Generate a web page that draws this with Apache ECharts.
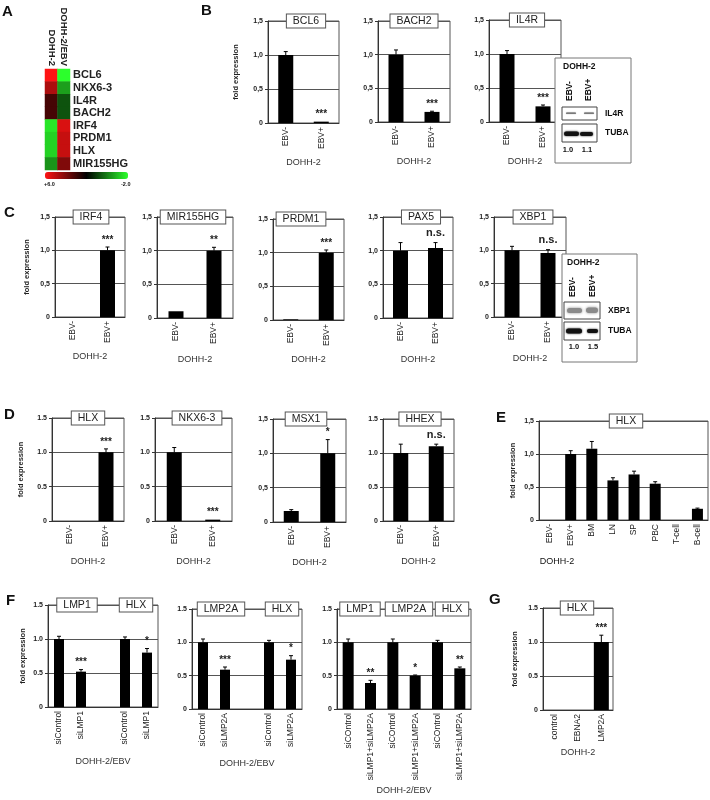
<!DOCTYPE html>
<html>
<head>
<meta charset="utf-8">
<script src="https://cdn.jsdelivr.net/npm/echarts@6/dist/echarts.min.js"></script>
<style>html,body{margin:0;background:#fff}#c{width:710px;height:800px}</style>
</head>
<body>
<div id="c"></div>
<script>
// ---- panel A: heatmap values (log scale, +6 red .. -2 green)
const heatGenes = ['BCL6', 'NKX6-3', 'IL4R', 'BACH2', 'IRF4', 'PRDM1', 'HLX', 'MIR155HG'];
const heatCols = ['DOHH-2', 'DOHH-2/EBV'];
const heatDOHH = [6.0, 4.7, 3.1, 3.1, -1.6, -1.3, -1.3, -0.3];
const heatEBV = [-2.0, -0.5, 0.7, 0.7, 5.4, 5.1, 5.1, 4.0];

// ---- panels B-D
const ebv = ['EBV-', 'EBV+'];
const bcl6 = [1.0, 0.02], bcl6Err = [0.05, 0], bcl6Sig = ['', '***'];
const bach2 = [1.0, 0.15], bach2Err = [0.07, 0.01], bach2Sig = ['', '***'];
const il4r = [1.0, 0.23], il4rErr = [0.05, 0.02], il4rSig = ['', '***'];
const irf4 = [0, 1.0], irf4Err = [0, 0.05], irf4Sig = ['', '***'];
const mir155 = [0.1, 1.0], mir155Err = [0, 0.05], mir155Sig = ['', '**'];
const prdm1 = [0.01, 1.0], prdm1Err = [0, 0.04], prdm1Sig = ['', '***'];
const pax5 = [1.0, 1.04], pax5Err = [0.12, 0.08], pax5Sig = ['', 'n.s.'];
const xbp1 = [1.0, 0.96], xbp1Err = [0.06, 0.05], xbp1Sig = ['', 'n.s.'];
const hlxD = [0, 1.0], hlxDErr = [0, 0.05], hlxDSig = ['', '***'];
const nkx63 = [1.0, 0.02], nkx63Err = [0.07, 0], nkx63Sig = ['', '***'];
const msx1 = [0.16, 1.0], msx1Err = [0.02, 0.2], msx1Sig = ['', '*'];
const hhex = [1.0, 1.1], hhexErr = [0.13, 0.03], hhexSig = ['', 'n.s.'];

// ---- panel E
const tissueCats = ['EBV-', 'EBV+', 'BM', 'LN', 'SP', 'PBC', 'T-cell', 'B-cell'];
const hlxE = [0, 1.0, 1.08, 0.6, 0.69, 0.55, 0, 0.17];
const hlxEErr = [0, 0.05, 0.11, 0.04, 0.05, 0.03, 0, 0.01];
const hlxESig = ['', '', '', '', '', '', '', ''];

// ---- panel F
const f1Cats = ['siControl', 'siLMP1', '', 'siControl', 'siLMP1'];
const f1 = [1.0, 0.52, null, 1.0, 0.8], f1Err = [0.04, 0.03, 0, 0.03, 0.06], f1Sig = ['', '***', '', '', '*'];
const f2Cats = ['siControl', 'siLMP2A', '', 'siControl', 'siLMP2A'];
const f2 = [1.0, 0.59, null, 1.0, 0.74], f2Err = [0.05, 0.04, 0, 0.03, 0.06], f2Sig = ['', '***', '', '', '*'];
const f3Cats = ['siCOntrol', 'siLMP1+siLMP2A', 'siCOntrol', 'siLMP1+siLMP2A', 'siCOntrol', 'siLMP1+siLMP2A'];
const f3 = [1.0, 0.39, 1.0, 0.5, 1.0, 0.61], f3Err = [0.05, 0.04, 0.05, 0.01, 0.03, 0.02], f3Sig = ['', '**', '', '*', '', '**'];

// ---- panel G
const gCats = ['control', 'EBNA2', 'LMP2A'];
const hlxG = [0, 0, 1.0], hlxGErr = [0, 0, 0.1], hlxGSig = ['', '', '***'];

const FONT = '"Liberation Sans", Arial, sans-serif';

// box = [left, top, right, zero-line y]
const charts = [
  { cats: ebv, vals: bcl6, err: bcl6Err, sig: bcl6Sig, titles: [['BCL6', 306]], box: [268, 21, 339, 123], sep: ',', yGap: 28, sub: 'DOHH-2', subGap: 35, bw: 15 },
  { cats: ebv, vals: bach2, err: bach2Err, sig: bach2Sig, titles: [['BACH2', 414]], box: [378, 21, 450, 122], sep: ',', sub: 'DOHH-2', subGap: 35, bw: 15 },
  { cats: ebv, vals: il4r, err: il4rErr, sig: il4rSig, titles: [['IL4R', 527]], box: [489, 20, 561, 122], sep: ',', sub: 'DOHH-2', subGap: 35, bw: 15 },
  { cats: ebv, vals: irf4, err: irf4Err, sig: irf4Sig, titles: [['IRF4', 91]], box: [55, 217, 125, 317], sep: ',', yGap: 24, sub: 'DOHH-2', subGap: 35, bw: 15 },
  { cats: ebv, vals: mir155, err: mir155Err, sig: mir155Sig, titles: [['MIR155HG', 193]], box: [157, 217, 233, 318], sep: ',', sub: 'DOHH-2', subGap: 37, bw: 15 },
  { cats: ebv, vals: prdm1, err: prdm1Err, sig: prdm1Sig, titles: [['PRDM1', 301]], box: [273, 219, 344, 320], sep: ',', sub: 'DOHH-2', subGap: 35, bw: 15 },
  { cats: ebv, vals: pax5, err: pax5Err, sig: pax5Sig, titles: [['PAX5', 421]], box: [383, 217, 453, 318], sep: ',', sub: 'DOHH-2', subGap: 37, bw: 15 },
  { cats: ebv, vals: xbp1, err: xbp1Err, sig: xbp1Sig, titles: [['XBP1', 533]], box: [494, 217, 566, 317], sep: ',', sub: 'DOHH-2', subGap: 37, bw: 15 },
  { cats: ebv, vals: hlxD, err: hlxDErr, sig: hlxDSig, titles: [['HLX', 88]], box: [52, 418, 124, 521], sep: '.', yGap: 27, sub: 'DOHH-2', subGap: 36, bw: 15 },
  { cats: ebv, vals: nkx63, err: nkx63Err, sig: nkx63Sig, titles: [['NKX6-3', 197]], box: [155, 418, 232, 521], sep: '.', sub: 'DOHH-2', subGap: 36, bw: 15 },
  { cats: ebv, vals: msx1, err: msx1Err, sig: msx1Sig, titles: [['MSX1', 306]], box: [273, 419, 346, 522], sep: ',', sub: 'DOHH-2', subGap: 36, bw: 15 },
  { cats: ebv, vals: hhex, err: hhexErr, sig: hhexSig, titles: [['HHEX', 420]], box: [383, 419, 454, 521], sep: '.', sub: 'DOHH-2', subGap: 36, bw: 15 },
  { cats: tissueCats, vals: hlxE, err: hlxEErr, sig: hlxESig, titles: [['HLX', 626]], box: [539, 421, 708, 520], sep: ',', yGap: 22, bw: 11 },
  { cats: f1Cats, vals: f1, err: f1Err, sig: f1Sig, titles: [['LMP1', 77], ['HLX', 136]], box: [48, 605, 158, 707], sep: '.', yGap: 21, sub: 'DOHH-2/EBV', subGap: 50, bw: 10 },
  { cats: f2Cats, vals: f2, err: f2Err, sig: f2Sig, titles: [['LMP2A', 221], ['HLX', 282]], box: [192, 609, 302, 709], sep: '.', sub: 'DOHH-2/EBV', subGap: 50, bw: 10 },
  { cats: f3Cats, vals: f3, err: f3Err, sig: f3Sig, titles: [['LMP1', 360], ['LMP2A', 409], ['HLX', 452]], box: [337, 609, 471, 709], sep: '.', sub: 'DOHH-2/EBV', subGap: 77, bw: 11 },
  { cats: gCats, vals: hlxG, err: hlxGErr, sig: hlxGSig, titles: [['HLX', 577]], box: [543, 608, 613, 710], sep: '.', yGap: 24, sub: 'DOHH-2', subGap: 38, bw: 15 }
];

function fmt(v, sep) {
  return v === 0 ? '0' : v.toFixed(1).replace('.', sep);
}

function titleBox(text, cx, cy) {
  return {
    type: 'text', x: cx, y: cy, z: 100,
    style: {
      text, align: 'center', verticalAlign: 'middle', font: '10.5px ' + FONT, fill: '#222',
      backgroundColor: '#fff', borderColor: '#555', borderWidth: 1, padding: [1, 6]
    }
  };
}

function label(text, x, y, font, align, extra) {
  return Object.assign({
    type: 'text', x, y, z: 100,
    style: { text, font, fill: '#111', align: align || 'left', verticalAlign: 'middle' }
  }, extra || {});
}

function errSeries(gi, c) {
  const data = [];
  c.vals.forEach((v, i) => { if (v != null) data.push([i, v, c.err[i]]); });
  return {
    type: 'custom', xAxisIndex: gi, yAxisIndex: gi, z: 5, silent: true, data,
    renderItem(params, api) {
      const i = api.value(0), v = api.value(1), e = api.value(2);
      const p0 = api.coord([i, v]), p1 = api.coord([i, v + e]);
      const kids = [];
      if (e > 0) {
        kids.push({ type: 'line', shape: { x1: p0[0], y1: p0[1], x2: p1[0], y2: p1[1] }, style: { stroke: '#000', lineWidth: 1 } });
        kids.push({ type: 'line', shape: { x1: p1[0] - 2, y1: p1[1], x2: p1[0] + 2, y2: p1[1] }, style: { stroke: '#000', lineWidth: 1 } });
      }
      const s = c.sig[i];
      if (s) {
        const ns = s === 'n.s.';
        kids.push({
          type: 'text', x: p1[0], y: p1[1] - (ns ? 4 : 2),
          style: { text: s, align: 'center', verticalAlign: 'bottom', font: (ns ? 'bold 11px ' : 'bold 10px ') + FONT, fill: '#222' }
        });
      }
      return { type: 'group', children: kids };
    }
  };
}

// western blot inset
function blot(b) {
  const g = [];
  g.push({ type: 'rect', z: 100, shape: { x: b.x, y: b.y, width: b.w, height: b.h }, style: { fill: '#fff', stroke: '#777', lineWidth: 1 } });
  g.push(label('DOHH-2', b.titleX, b.titleY, 'bold 8.5px ' + FONT));
  b.lanes.forEach((lx, i) => g.push(label(ebv[i], lx, b.laneY, 'bold 8.5px ' + FONT, 'left', { rotation: Math.PI / 2 })));
  b.strips.forEach(s => {
    g.push({ type: 'rect', z: 100, shape: { x: b.sx, y: s.y, width: b.sw, height: s.h }, style: { fill: '#fff', stroke: '#444', lineWidth: 1 } });
    s.bands.forEach(bd => g.push({
      type: 'rect', z: 101, shape: { x: bd[0], y: bd[1], width: bd[2], height: bd[3], r: bd[3] / 2 },
      style: { fill: s.color, shadowBlur: s.blur, shadowColor: s.color }
    }));
    g.push(label(s.name, b.nameX, s.y + s.h / 2, 'bold 8.5px ' + FONT));
  });
  b.nums.forEach((n, i) => g.push(label(n, b.numX[i], b.numY, 'bold 7.5px ' + FONT, 'center')));
  return g;
}

const option = {
  animation: false,
  backgroundColor: '#fff',
  textStyle: { fontFamily: FONT },
  grid: [{ left: 45, top: 69, width: 25, height: 101 }],
  xAxis: [{
    gridIndex: 0, type: 'category', position: 'top', data: heatCols,
    axisLine: { show: false }, axisTick: { show: false },
    axisLabel: { interval: 0, rotate: 90, margin: 3, fontSize: 9.5, fontWeight: 'bold', color: '#222' }
  }],
  yAxis: [{
    gridIndex: 0, type: 'category', position: 'right', inverse: true, data: heatGenes,
    axisLine: { show: false }, axisTick: { show: false },
    axisLabel: { interval: 0, margin: 3, fontSize: 11, fontWeight: 'bold', color: '#222' }
  }],
  visualMap: {
    type: 'continuous', seriesIndex: 0, min: -2, max: 6, orient: 'horizontal', inverse: true,
    left: 45, top: 172, itemWidth: 7, itemHeight: 83, padding: 0, calculable: false,
    inRange: { color: ['#2cff2c', '#000000', '#ff1414'] }
  },
  series: [{
    type: 'heatmap', xAxisIndex: 0, yAxisIndex: 0, silent: true,
    data: heatGenes.flatMap((g, i) => [[0, i, heatDOHH[i]], [1, i, heatEBV[i]]])
  }],
  graphic: []
};

charts.forEach((c, k) => {
  const gi = k + 1;
  const [l, t, r, b] = c.box;
  option.grid.push({ left: l, top: t, width: r - l, height: b - t, show: true, borderColor: '#555', borderWidth: 1 });
  option.xAxis.push({
    gridIndex: gi, type: 'category', data: c.cats,
    axisLine: { lineStyle: { color: '#333' } },
    axisTick: { length: 3, lineStyle: { color: '#333' } },
    axisLabel: { rotate: 90, margin: 4, fontSize: 8.5, color: '#222', interval: 0 },
    name: c.sub || '', nameLocation: 'middle', nameGap: c.subGap || 35,
    nameTextStyle: { fontSize: 9, color: '#333' }
  });
  option.yAxis.push({
    gridIndex: gi, type: 'value', min: 0, max: 1.5, interval: 0.5,
    axisLine: { show: true, lineStyle: { color: '#333' } },
    axisTick: { show: true, length: 3, lineStyle: { color: '#333' } },
    splitLine: { lineStyle: { color: '#555' } },
    axisLabel: { fontSize: 7, fontWeight: 'bold', color: '#222', margin: 5, formatter: v => fmt(v, c.sep) },
    name: c.yGap ? 'fold expression' : '', nameLocation: 'middle', nameRotate: 90, nameGap: c.yGap || 0,
    nameTextStyle: { fontSize: 7.5, fontWeight: 'bold', color: '#222' }
  });
  option.series.push({
    type: 'bar', xAxisIndex: gi, yAxisIndex: gi, data: c.vals, barWidth: c.bw,
    itemStyle: { color: '#000' }, silent: true
  });
  option.series.push(errSeries(gi, c));
  c.titles.forEach(([txt, cx]) => option.graphic.push(titleBox(txt, cx, t)));
});

// panel letters
[['A', 2, 12], ['B', 201, 11], ['C', 4, 213], ['D', 4, 415], ['E', 496, 418], ['F', 6, 601], ['G', 489, 600]]
  .forEach(([s, x, y]) => option.graphic.push(label(s, x, y, 'bold 15px ' + FONT)));

// heatmap scale labels
option.graphic.push(label('+6.0', 44, 184, 'bold 5.5px ' + FONT));
option.graphic.push(label('-2.0', 121, 184, 'bold 5.5px ' + FONT));

// panel E cell-line label
option.graphic.push(label('DOHH-2', 557, 562, '9px ' + FONT, 'center'));

// western blot insets
option.graphic.push(...blot({
  x: 555, y: 58, w: 76, h: 105, titleX: 563, titleY: 67, lanes: [570, 589], laneY: 101,
  sx: 562, sw: 35, nameX: 605, numY: 150, numX: [568, 587], nums: ['1.0', '1.1'],
  strips: [
    { name: 'IL4R', y: 107, h: 13, color: '#7a7a7a', blur: 1, bands: [[566, 112.5, 10, 1.5], [584, 112.5, 10, 1.5]] },
    { name: 'TUBA', y: 124, h: 18, color: '#111', blur: 2, bands: [[564, 131.5, 15, 4.5], [580, 132, 13, 4]] }
  ]
}));
option.graphic.push(...blot({
  x: 562, y: 254, w: 75, h: 108, titleX: 567, titleY: 263, lanes: [573, 593], laneY: 297,
  sx: 564, sw: 36, nameX: 608, numY: 347, numX: [574, 593], nums: ['1.0', '1.5'],
  strips: [
    { name: 'XBP1', y: 302, h: 17, color: '#8a8a8a', blur: 3, bands: [[567, 308, 15, 5], [586, 307.5, 12, 5.5]] },
    { name: 'TUBA', y: 322, h: 18, color: '#111', blur: 2, bands: [[566, 328.5, 16, 5], [587, 329, 11, 4]] }
  ]
}));

const chart = echarts.init(document.getElementById('c'), null, { renderer: 'canvas' });
chart.setOption(option);
</script>
</body>
</html>
